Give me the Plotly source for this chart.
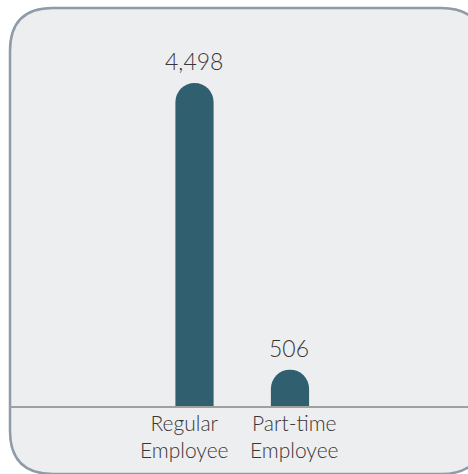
import plotly.graph_objects as go

categories = ["Regular<br>Employee", "Part-time<br>Employee"]
values = [4498, 506]
value_labels = ["4,498", "506"]

W, H = 468, 474
ML, MB = 10, 68
PW, PH = W - ML, H - MB
FONT = "Lato"
TEXT = "#3a3636"


def px(x, y):
    # pixel position on the page -> paper coordinates
    return (x - ML) / PW, (PH - y) / PH


def panel_path(x0, y0, x1, y1, r):
    def p(x, y):
        a, b = px(x, y)
        return f"{a:.5f},{b:.5f}"
    return " ".join([
        f"M{p(x0 + r, y0)}",
        f"L{p(x1 - r, y0)}",
        f"Q{p(x1, y0)} {p(x1, y0 + r)}",
        f"L{p(x1, y1 - r)}",
        f"Q{p(x1, y1)} {p(x1 - r, y1)}",
        f"L{p(x0 + r, y1)}",
        f"Q{p(x0, y1)} {p(x0, y1 - r)}",
        f"L{p(x0, y0 + r)}",
        f"Q{p(x0, y0)} {p(x0 + r, y0)}",
        "Z",
    ])


fig = go.Figure()

fig.add_trace(
    go.Bar(
        x=categories,
        y=values,
        width=0.4,
        marker=dict(color="#306070", cornerradius="50%", line_width=0),
        hoverinfo="skip",
    )
)

# value labels above the bars
for cat, val, lab in zip(categories, values, value_labels):
    fig.add_annotation(
        x=cat,
        y=val,
        text=lab,
        showarrow=False,
        yanchor="bottom",
        yshift=6,
        xshift=-1,
        font=dict(size=23, color=TEXT, family=FONT, weight=300),
    )

# category labels under the axis (slightly spread apart like the original)
for cat, shift in zip(categories, [-10, 5]):
    fig.add_annotation(
        x=cat,
        y=0,
        yref="paper",
        text=cat,
        showarrow=False,
        yanchor="top",
        yshift=-2,
        xshift=shift,
        font=dict(size=21, color=TEXT, family=FONT, weight=300),
    )

fig.add_shape(
    type="path",
    xref="paper",
    yref="paper",
    path=panel_path(10, 8, 484, 474, 43),
    fillcolor="#edeef0",
    line=dict(color="#8f9ba6", width=2.5),
    layer="below",
)

fig.update_layout(
    width=W,
    height=H,
    margin=dict(l=ML, r=0, t=0, b=MB),
    paper_bgcolor="white",
    plot_bgcolor="rgba(0,0,0,0)",
    showlegend=False,
    font=dict(family=FONT, color=TEXT),
)

fig.update_xaxes(
    range=[-1.932, 2.864],
    showline=True,
    linecolor="#a0a0a0",
    linewidth=1.5,
    showgrid=False,
    ticks="",
    showticklabels=False,
    fixedrange=True,
)

fig.update_yaxes(
    range=[0, 5654],
    visible=False,
    showgrid=False,
    fixedrange=True,
)

fig.write_html(
    "out.html",
    config={"displayModeBar": False},
    post_script="document.body.style.margin='0';document.body.style.overflow='hidden';",
)
